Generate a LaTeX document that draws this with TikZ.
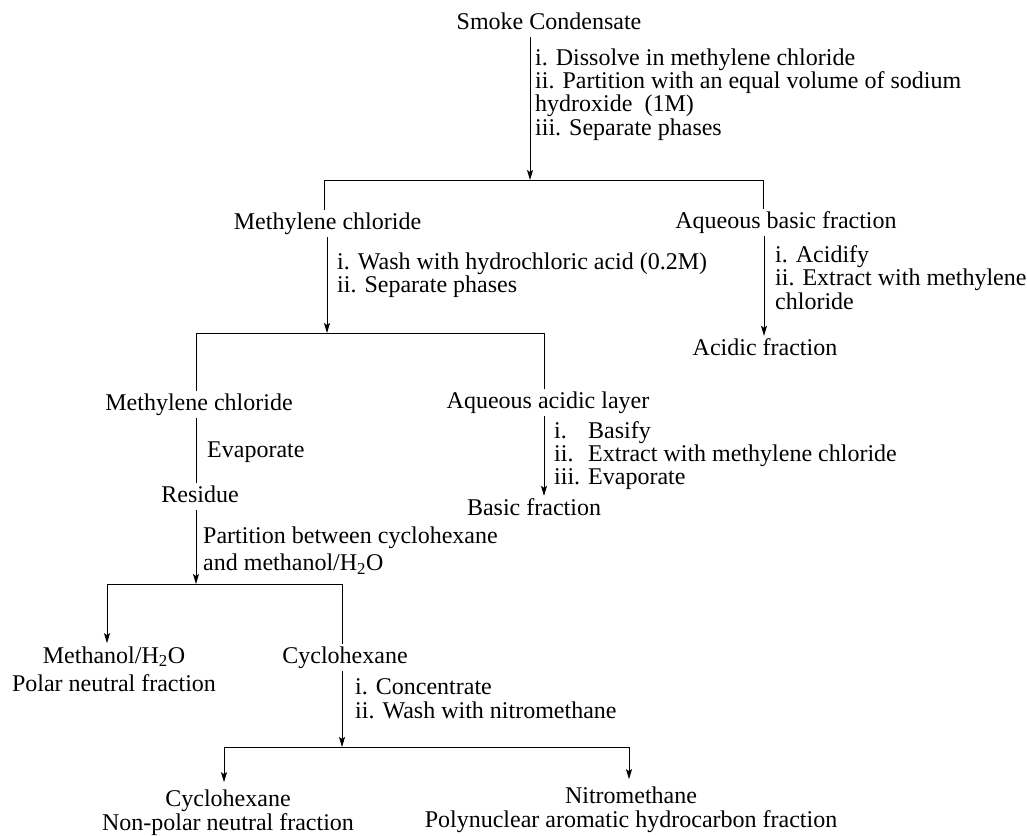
\documentclass[tikz,border=0pt]{standalone}
\usepackage{fontspec}
\setmainfont{Liberation Serif}
\usetikzlibrary{arrows.meta}
\tikzset{
  every node/.style={font=\fontsize{24}{23}\selectfont},
  one/.style={anchor=base, inner sep=3pt, text height=16pt, text depth=5pt},
  multi/.style={anchor=base, inner sep=3pt},
  lbl/.style={anchor=base west, inner sep=0pt},
  ln/.style={line width=1pt},
  arr/.style={ln, -{Stealth[length=10pt,width=6pt,inset=2pt]}}
}
\newcommand{\ml}[2][l]{\begin{tabular}[t]{@{}#1@{}}#2\end{tabular}}
\begin{document}
\begin{tikzpicture}[x=1pt,y=-1pt]
\useasboundingbox (0,0) rectangle (1027,835);
% nodes
\node[one] (sc) at (549,29) {Smoke Condensate};
\node[one] (mc1) at (327.5,229) {Methylene chloride};
\node[one] (abf) at (786,228) {Aqueous basic fraction};
\node[one] (acf) at (765,355) {Acidic fraction};
\node[one] (mc2) at (199,410) {Methylene chloride};
\node[one] (aal) at (548,408) {Aqueous acidic layer};
\node[one] (res) at (200,502) {Residue};
\node[one] (bf) at (534,515) {Basic fraction};
\node[multi] (meoh) at (114,663) {\ml[c]{Methanol/H\textsubscript{2}O\\[5pt]Polar neutral fraction}};
\node[one] (cy1) at (345,663) {Cyclohexane};
\node[multi] (cy2) at (228,806) {\ml[c]{Cyclohexane\\[1pt]Non-polar neutral fraction}};
\node[multi] (nm) at (631,803) {\ml[c]{Nitromethane\\[1pt]Polynuclear aromatic hydrocarbon fraction}};
% labels
\node[lbl] (l1) at (535,65) {\def\arraystretch{0.957}\ml{i. Dissolve in methylene chloride\\ii. Partition with an equal volume of sodium\\hydroxide\ \ (1M)\\iii. Separate phases}};
\node[lbl] (l2) at (337,269) {\ml{i. Wash with hydrochloric acid (0.2M)\\ii. Separate phases}};
\node[lbl] (l3) at (775,262) {\ml{i. Acidify\\ii. Extract with methylene\\chloride}};
\node[lbl] (l4) at (554,438) {\begin{tabular}[t]{@{}l@{ }l@{}}i. & Basify\\ii. & Extract with methylene chloride\\iii. & Evaporate\end{tabular}};
\node[lbl] (l5) at (207,457) {Evaporate};
\node[lbl] (l6) at (203,543) {\ml{Partition between cyclohexane\\[4pt]and methanol/H\textsubscript{2}O}};
\node[lbl] (l7) at (355,694) {\ml{i. Concentrate\\[1pt]ii. Wash with nitromethane}};
% junction coordinates
\coordinate (j1) at (530,180);
\coordinate (j1l) at (324,180);
\coordinate (j1r) at (763,180);
\coordinate (j2) at (327,333);
\coordinate (j2l) at (196,333);
\coordinate (j2r) at (544,333);
\coordinate (xa) at (764,0);
\coordinate (j3) at (196,584);
\coordinate (j3l) at (107,584);
\coordinate (j3r) at (342,584);
\coordinate (j4) at (342,747);
\coordinate (j4l) at (224,747);
\coordinate (j4r) at (629,747);
% connectors
\draw[arr] (sc.south -| j1) -- (j1);
\draw[ln] (j1l |- mc1.north) -- (j1l) -- (j1r) -- (j1r |- abf.north);
\draw[arr] (mc1.south -| j2) -- (j2);
\draw[arr] (abf.south -| xa) -- (acf.north -| xa);
\draw[ln] (j2l |- mc2.north) -- (j2l) -- (j2r) -- (j2r |- aal.north);
\draw[ln] (mc2.south -| j2l) -- (res.north -| j2l);
\draw[arr] (aal.south -| j2r) -- (bf.north -| j2r);
\draw[arr] (res.south -| j3) -- (j3);
\draw[ln] (j3l) -- (j3r) -- (j3r |- cy1.north);
\draw[arr] (j3l) -- (j3l |- meoh.north);
\draw[arr] (cy1.south -| j4) -- (j4);
\draw[ln] (j4l) -- (j4r);
\draw[arr, shorten >=4pt] (j4l) -- (j4l |- cy2.north);
\draw[arr, shorten >=4pt] (j4r) -- (j4r |- nm.north);
\end{tikzpicture}
\end{document}
